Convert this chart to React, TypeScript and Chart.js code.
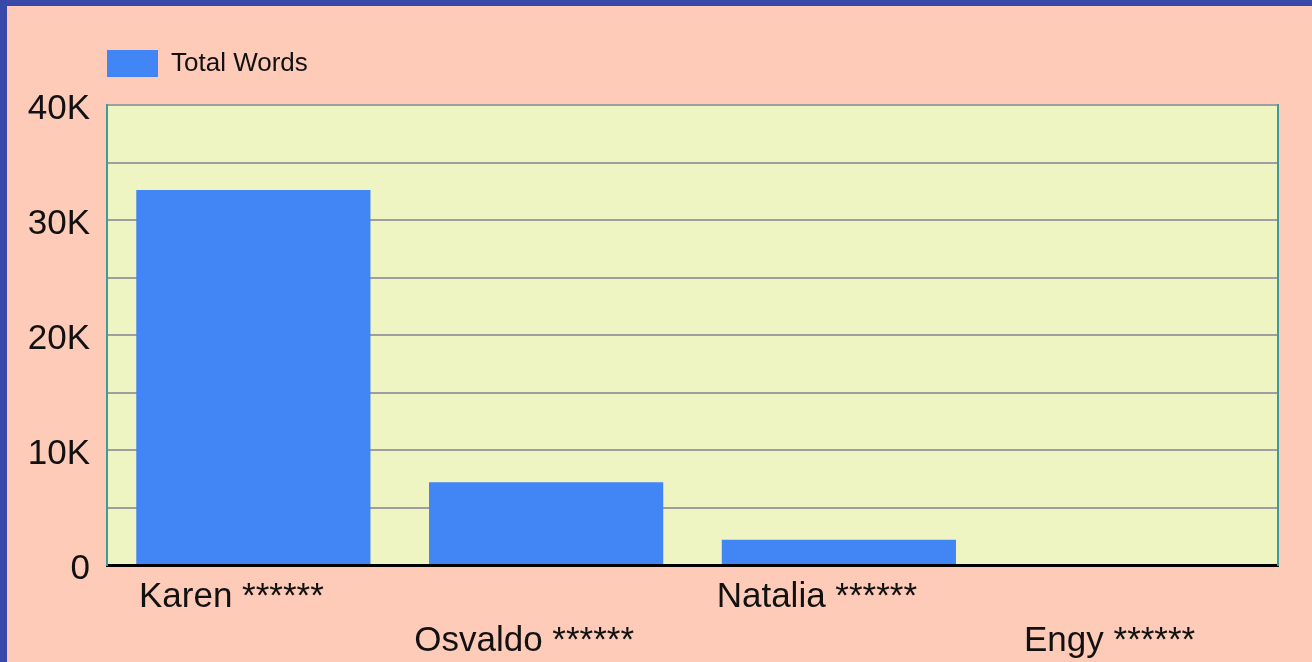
import React, { useEffect, useRef } from "react";
import { Chart, registerables } from "chart.js";

Chart.register(...registerables);

const categories = ["Karen ******", "Osvaldo ******", "Natalia ******", "Engy ******"];
const totalWords = [32600, 7200, 2200, 0];
const yTickValues = [0, 10000, 20000, 30000, 40000];
const yTickLabels = ["0", "10K", "20K", "30K", "40K"];
const seriesName = "Total Words";

const plotBackground = {
  id: "plotBackground",
  beforeDraw(chart: any) {
    const { ctx, chartArea } = chart;
    if (!chartArea) return;
    ctx.save();
    ctx.fillStyle = "#eff4c3";
    ctx.fillRect(chartArea.left, chartArea.top, chartArea.right - chartArea.left, chartArea.bottom - chartArea.top);
    ctx.restore();
  },
};

const FONT = "'Liberation Sans', Arial, sans-serif";

export default function App() {
  const ref = useRef<HTMLCanvasElement | null>(null);

  useEffect(() => {
    document.body.style.margin = "6px 0 0 7px";
    document.body.style.background = "#3949a9";
    document.body.style.overflow = "hidden";
    if (!ref.current) return;
    const labels = categories.map((c, i) => (i % 2 === 0 ? [c] : ["", c]));
    const chart = new Chart(ref.current, {
      type: "bar",
      data: {
        labels,
        datasets: [
          {
            label: seriesName,
            data: totalWords,
            backgroundColor: "#4285f4",
            borderWidth: 0,
            barPercentage: 0.8,
            categoryPercentage: 1.0,
          },
        ],
      },
      plugins: [plotBackground],
      options: {
        animation: false,
        responsive: true,
        maintainAspectRatio: false,
        layout: { padding: { top: 44, right: 34, left: 0, bottom: 0 } },
        plugins: {
          tooltip: { enabled: false },
          title: {
            display: true,
            text: "",
            weight: 500,
            padding: 0,
            font: { size: 15, lineHeight: 1.2 },
          } as any,
          legend: {
            display: true,
            position: "top",
            align: "start",
            fullSize: false,
            labels: {
              boxWidth: 51,
              boxHeight: 27,
              padding: 0,
              color: "#111",
              font: { family: FONT, size: 26 },
            },
          },
        },
        scales: {
          x: {
            grid: { display: false, drawTicks: false },
            border: { display: true, color: "#000", width: 3 },
            ticks: {
              autoSkip: false,
              maxRotation: 0,
              minRotation: 0,
              padding: 10,
              labelOffset: -22,
              color: "#111",
              font: { family: FONT, size: 35, lineHeight: 1.26 },
            },
            afterFit: (axis: any) => {
              axis.height = 97;
            },
          },
          y: {
            min: 0,
            max: 40000,
            grid: { color: "#9e9e9e", lineWidth: 2, drawTicks: false },
            border: { display: true, color: "#3f9a9a", width: 2 },
            ticks: {
              stepSize: 5000,
              padding: 17,
              labelOffset: 4,
              color: "#111",
              font: { family: FONT, size: 35 },
              callback: (v: any) => {
                const i = yTickValues.indexOf(Number(v));
                return i >= 0 ? yTickLabels[i] : "";
              },
            },
            afterFit: (axis: any) => {
              axis.width = 100;
            },
          },
          y2: {
            position: "right",
            min: 0,
            max: 40000,
            grid: { display: false, drawTicks: false },
            border: { display: true, color: "#3f9a9a", width: 2 },
            ticks: { display: false },
            afterFit: (axis: any) => {
              axis.width = 0;
            },
          },
        },
      },
    });
    return () => chart.destroy();
  }, []);

  return (
    <div style={{ position: "relative", width: 1305, height: 656, background: "#fecbb9" }}>
      <canvas ref={ref} />
    </div>
  );
}
